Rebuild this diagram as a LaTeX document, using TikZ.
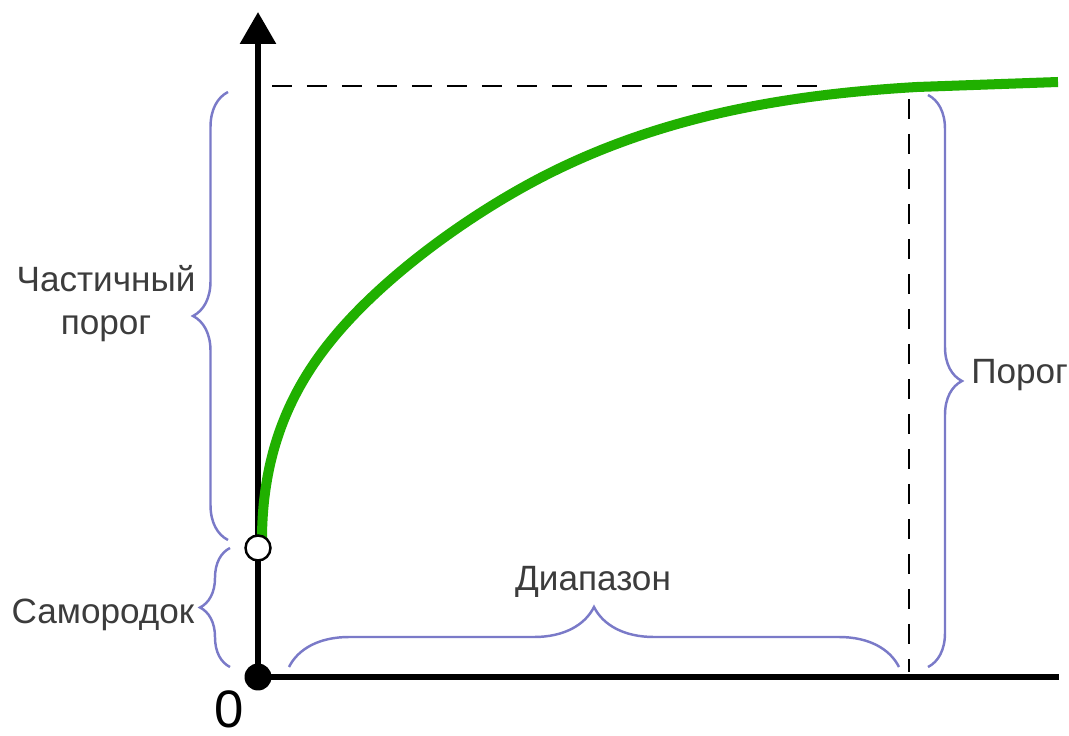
\documentclass[tikz,border=0pt]{standalone}
\usepackage{fontspec}
\setmainfont{Liberation Sans}
\usetikzlibrary{arrows.meta,decorations.pathreplacing}
\definecolor{curvegreen}{RGB}{32,176,0}
\definecolor{braceblue}{RGB}{122,122,200}
\definecolor{labelgray}{RGB}{60,60,60}

\begin{document}
\begin{tikzpicture}[x=0.02cm,y=-0.02cm,
  lbl/.style={text=labelgray,font=\fontsize{20}{24.5}\selectfont,inner sep=0pt},
  brc/.style={braceblue,line width=1.4pt,decorate,decoration={brace,amplitude=#1}},
  guide/.style={black,line width=1.4pt,dash pattern=on 0.4cm off 0.3cm}]
\useasboundingbox (0,0) rectangle (1069,736);

% axes
\coordinate (O) at (258,677);
\coordinate (ytop) at (258,12);
\coordinate (xend) at (1059,677);
\draw[line width=3.6pt] (O) -- (xend);
\draw[line width=3.4pt,-{Triangle[length=0.64cm,width=0.7cm]}] (O) -- (ytop);

% sill and range guides
\coordinate (sillL) at (272,86);
\coordinate (sillR) at (822,86);
\coordinate (rngtop) at (909,99);
\coordinate (rngbot) at (909,672);
\draw[guide] (sillL) -- (sillR);
\draw[guide] (rngtop) -- (rngbot);

% variogram curve
\coordinate (c0) at (262,540);
\coordinate (c1) at (340,330);
\coordinate (c2) at (550,173);
\coordinate (c3) at (917,87);
\coordinate (c4) at (1058,82);
\draw[curvegreen,line width=5.7pt] (c0) .. controls (262,440) and (300,376) .. (c1)
  .. controls (395,267) and (480,208) .. (c2)
  .. controls (670,113) and (797,94) .. (c3) -- (c4);

\node[circle,draw,line width=1.4pt,fill=white,minimum size=0.5cm,inner sep=0pt] (nug) at (258,548) {};
\node[circle,fill=black,minimum size=0.54cm,inner sep=0pt] (orig) at (O) {};

% braces
\coordinate (psbot) at (228,540);
\coordinate (pstop) at (228,92);
\coordinate (ngbot) at (230,667);
\coordinate (ngtop) at (230,548);
\coordinate (sltop) at (928,95);
\coordinate (slbot) at (928,667);
\coordinate (rgL) at (289,667);
\coordinate (rgR) at (899,667);
\draw[brc=0.7cm] (psbot) -- (pstop);
\draw[brc=0.6cm] (ngbot) -- (ngtop);
\draw[brc=0.68cm] (sltop) -- (slbot);
\draw[brc=1.2cm] (rgL) -- (rgR);

% labels
\node[lbl,align=center] (psill) at (106,304) {Частичный\\порог};
\node[lbl,anchor=base] (nugget) at (103,623) {Самородок};
\node[lbl,anchor=base] (range) at (593,590) {Диапазон};
\node[lbl,anchor=base west] (sill) at (971,384) {Порог};
\node[font=\fontsize{30}{30}\selectfont,anchor=base,inner sep=0pt] (zero) at (229,727) {0};
\end{tikzpicture}
\end{document}
